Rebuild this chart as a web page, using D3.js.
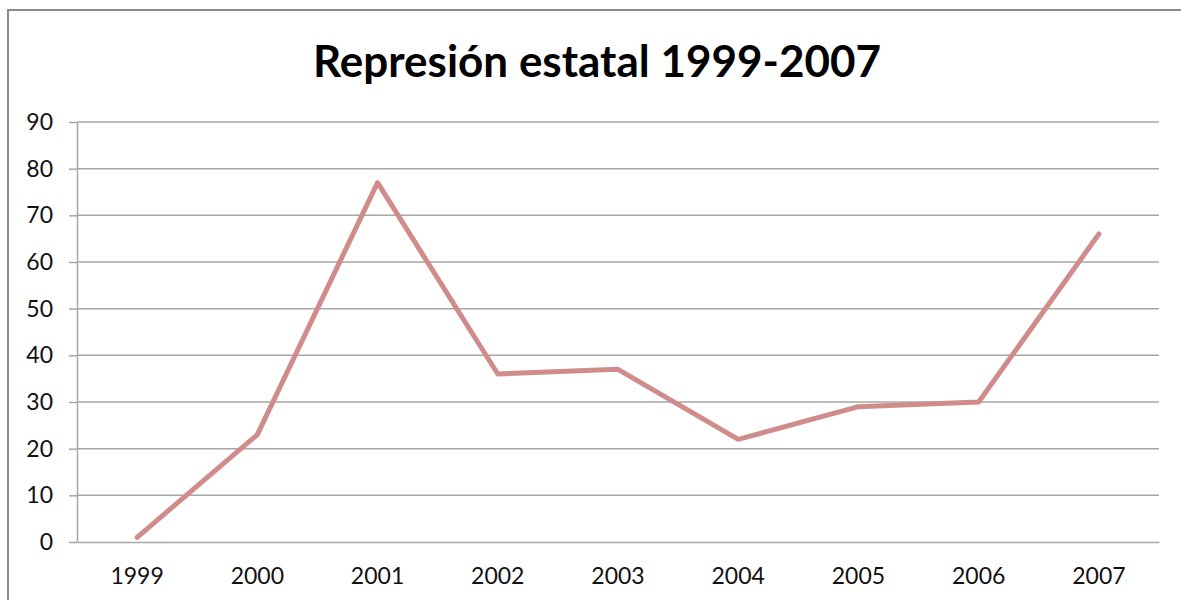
<!DOCTYPE html>
<meta charset="utf-8">
<style>
body { margin: 0; background: #fff; }
.tick text { font: 23px Lato, "Open Sans", sans-serif; fill: #111; }
.title { font: bold 44px Lato, "Open Sans", sans-serif; fill: #000; text-anchor: middle; }
</style>
<svg width="1181" height="600"></svg>
<script src="https://cdnjs.cloudflare.com/ajax/libs/d3/7.8.5/d3.min.js"></script>
<script>

var years = ["1999", "2000", "2001", "2002", "2003", "2004", "2005", "2006", "2007"];
var values = [1, 23, 77, 36, 37, 22, 29, 30, 66];
var yTicks = [0, 10, 20, 30, 40, 50, 60, 70, 80, 90];

var svg = d3.select("svg"),
    plotLeft = 77, plotRight = 1159, plotTop = 122, plotBottom = 542;

// chart frame (runs off the right and bottom edge)
svg.append("rect")
    .attr("x", 8).attr("y", 10)
    .attr("width", 1200).attr("height", 620)
    .attr("fill", "none")
    .attr("stroke", "#8a8a8a")
    .attr("stroke-width", 2);

svg.append("text")
    .attr("class", "title")
    .attr("x", 597).attr("y", 77)
    .text("Represión estatal 1999-2007");

var x = d3.scaleBand().domain(years).range([plotLeft, plotRight]);
var y = d3.scaleLinear().domain([0, 90]).range([plotBottom, plotTop]);

// gridlines
svg.append("g").selectAll("line")
    .data(yTicks.slice(1))
    .enter().append("line")
      .attr("x1", plotLeft).attr("x2", plotRight)
      .attr("y1", function(d) { return y(d); })
      .attr("y2", function(d) { return y(d); })
      .attr("stroke", "#a6a6a6")
      .attr("stroke-width", 1.5);

var yAxis = svg.append("g")
    .attr("transform", "translate(" + plotLeft + ",0)")
    .call(d3.axisLeft(y).tickValues(yTicks).tickSize(8).tickPadding(16).tickSizeOuter(0));
yAxis.select(".domain").attr("stroke", "#a6a6a6").attr("stroke-width", 1.5);
yAxis.selectAll(".tick line").attr("stroke", "#a6a6a6").attr("stroke-width", 1.5);

var xAxis = svg.append("g")
    .attr("transform", "translate(0," + plotBottom + ")")
    .call(d3.axisBottom(x).tickSize(0).tickPadding(26));
xAxis.select(".domain").attr("stroke", "#a6a6a6").attr("stroke-width", 1.5);

var line = d3.line()
    .x(function(d, i) { return x(years[i]) + x.bandwidth() / 2; })
    .y(function(d) { return y(d); });

svg.append("path")
    .datum(values)
    .attr("d", line)
    .attr("fill", "none")
    .attr("stroke", "#d08c8b")
    .attr("stroke-width", 5)
    .attr("stroke-linejoin", "round")
    .attr("stroke-linecap", "round");

</script>
